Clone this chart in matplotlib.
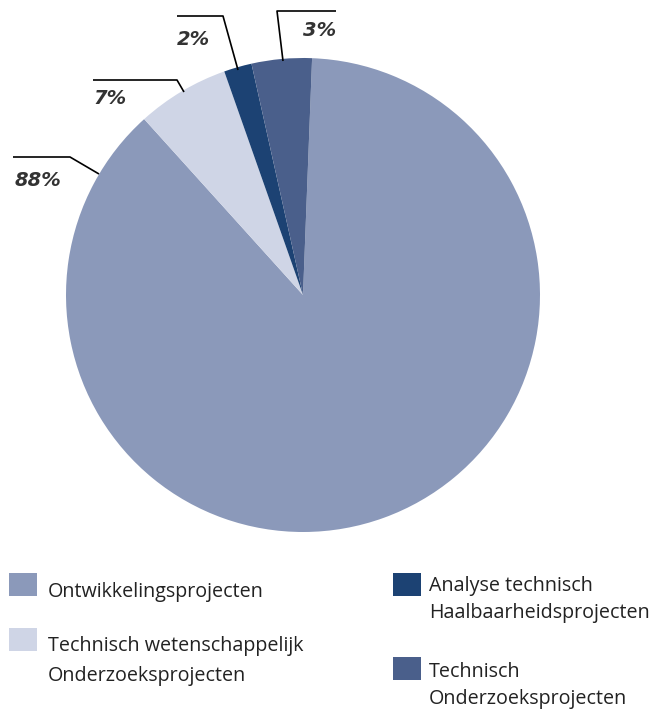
import matplotlib.pyplot as plt
from matplotlib.patches import Rectangle

# Data (slice sizes as drawn in the picture; labels as printed)
categories = ['Ontwikkelingsprojecten',
              'Technisch wetenschappelijk\nOnderzoeksprojecten',
              'Analyse technisch\nHaalbaarheidsprojecten',
              'Technisch\nOnderzoeksprojecten']
shares = [87.7, 6.3, 1.9, 4.1]
pct_labels = ['88%', '7%', '2%', '3%']
colors = ['#8B99BA', '#CFD5E6', '#1C4273', '#4A5F8B']

W, H = 651, 710


def Y(py):
    # pixel row (top = 0) -> data y
    return H - py


fig = plt.figure(figsize=(W / 100, H / 100), dpi=100)
ax = fig.add_axes([0, 0, 1, 1])

ax.pie(shares, colors=colors, startangle=87.8, counterclock=False,
       center=(303, Y(295)), radius=237, frame=True,
       wedgeprops=dict(linewidth=0))
ax.set_xlim(0, W)
ax.set_ylim(0, H)
ax.set_aspect('equal')
ax.axis('off')

# Percentage labels with leader lines
label_pos = [(15, 186), (93, 104), (177, 45), (303, 36)]
leaders = [
    [(13, 157), (70, 157), (99, 174)],
    [(93, 80), (177, 80), (184, 92)],
    [(177, 16), (223, 16), (238, 70)],
    [(336, 11), (277, 11), (283, 61)],
]
for txt, (x, y), pts in zip(pct_labels, label_pos, leaders):
    ax.text(x, Y(y), txt, fontsize=14, fontweight='bold', style='italic',
            color='#333333', va='baseline', ha='left',
            family='DejaVu Sans')
    ax.plot([p[0] for p in pts], [Y(p[1]) for p in pts],
            color='black', linewidth=1.2, solid_capstyle='butt')

# Legend (drawn by hand, two columns)
boxes = [(9, 573), (9, 628), (393, 573), (393, 657)]
text_x = [48, 48, 429, 429]
text_y = [597, 651, 591, 677]
line_gap = [30, 30, 27, 27]
for cat, col, (bx, by), tx, ty, gap in zip(categories, colors, boxes,
                                         text_x, text_y, line_gap):
    ax.add_patch(Rectangle((bx, Y(by + 23)), 28, 23, facecolor=col,
                           edgecolor='none'))
    for i, line in enumerate(cat.split('\n')):
        ax.text(tx, Y(ty + i * gap), line, fontsize=14.2, color='#222222',
                va='baseline', ha='left', family=['Open Sans', 'DejaVu Sans'])

fig.savefig('out.png', dpi=100)
